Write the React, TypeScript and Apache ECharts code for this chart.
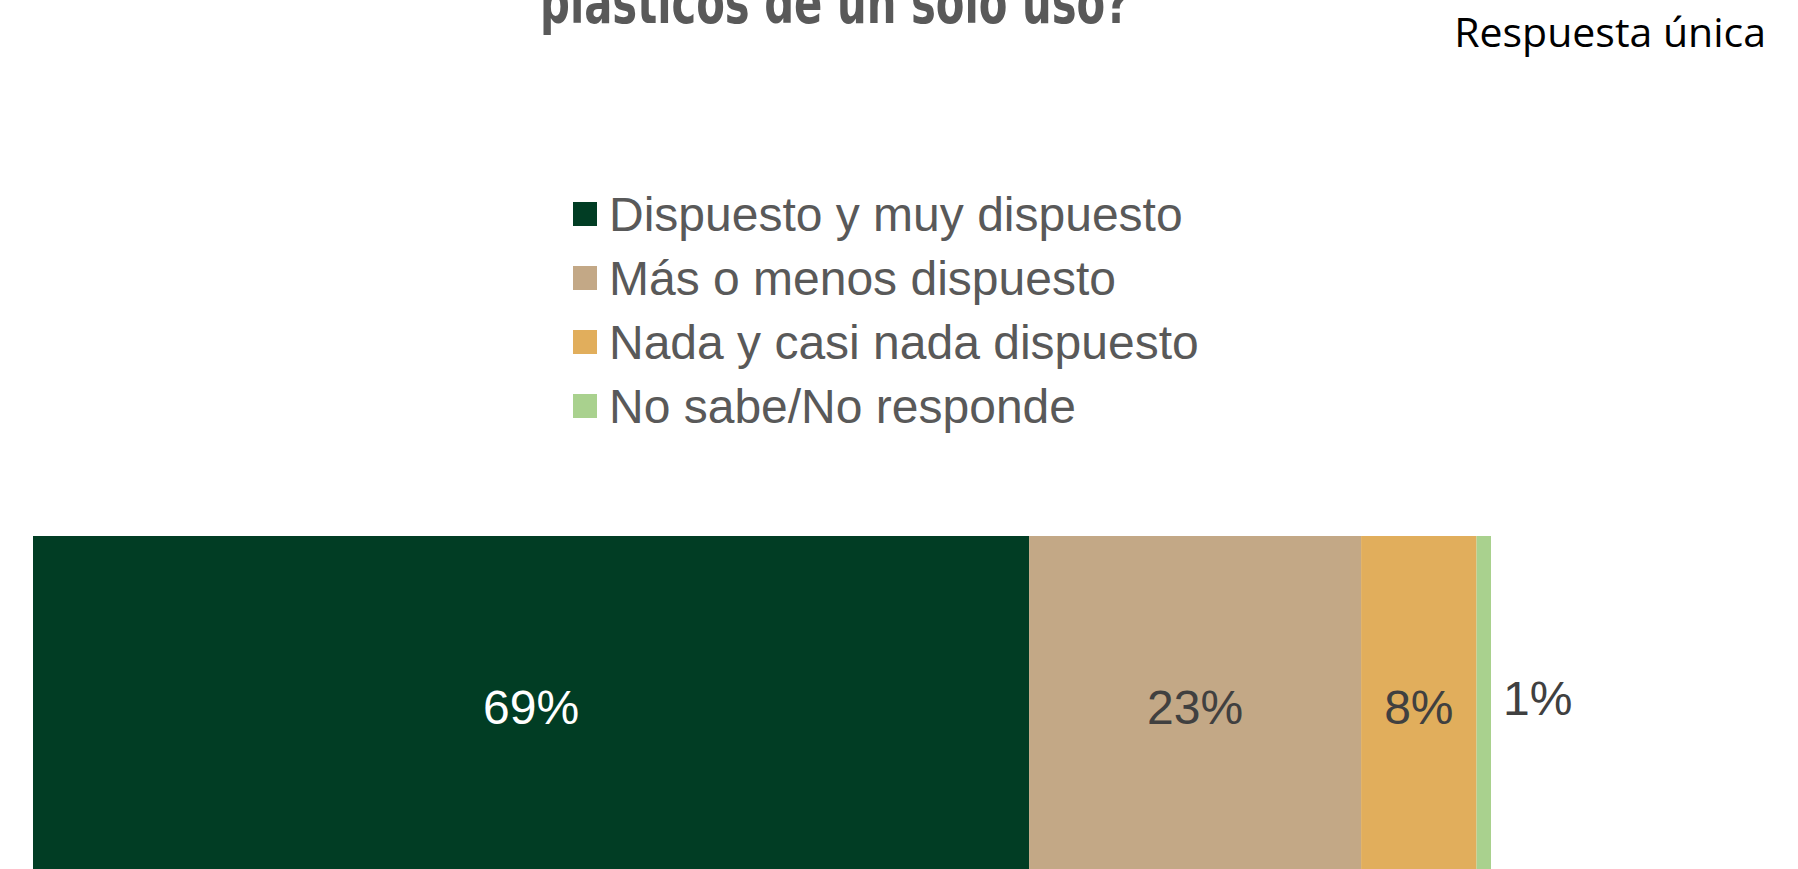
import React, { useEffect, useRef } from "react";
import * as echarts from "echarts";

const categories = ["Total"];
const seriesNames = [
  "Dispuesto y muy dispuesto",
  "Más o menos dispuesto",
  "Nada y casi nada dispuesto",
  "No sabe/No responde",
];
const seriesValues = [69, 23, 8, 1];
const seriesColors = ["#013D24", "#C3A886", "#E1AE5C", "#A9D18E"];
const labelColors = ["#FFFFFF", "#404040", "#404040", "#404040"];
const titleLine = "plásticos de un solo uso?";
const noteText = "Respuesta única";

export default function App() {
  const ref = useRef<HTMLDivElement>(null);
  useEffect(() => {
    document.body.style.margin = "0";
    if (!ref.current) return;
    const chart = echarts.init(ref.current, null, { renderer: "svg" });
    const total = seriesValues.reduce((a, b) => a + b, 0);
    const series = seriesNames.map((name, i) => ({
      name,
      type: "bar",
      stack: "total",
      barWidth: "100%",
      data: [seriesValues[i]],
      itemStyle: { color: seriesColors[i] },
      label: {
        show: true,
        position: i === seriesNames.length - 1 ? "right" : "inside",
        distance: 12,
        offset: i === seriesNames.length - 1 ? [0, -4] : [0, 5],
        formatter: (p: any) => `${p.value}%`,
        color: labelColors[i],
        fontSize: 48,
        fontFamily: "Liberation Sans, Arial, sans-serif",
      },
    }));
    chart.setOption({
      animation: false,
      graphic: [
        {
          type: "text",
          x: 540,
          y: 3,
          scaleX: 0.8,
          style: {
            x: 0,
            y: 0,
            text: titleLine,
            fontSize: 58,
            fontWeight: "bold",
            fontFamily: "DejaVu Sans Condensed, Liberation Sans Narrow, sans-serif",
            fill: "#595959",
            verticalAlign: "middle",
          },
        },
        {
          type: "text",
          right: 32,
          top: 10,
          style: {
            text: noteText,
            fontSize: 41,
            fontFamily: "Open Sans, sans-serif",
            fill: "#000000",
          },
        },
      ],
      legend: {
        orient: "vertical",
        left: 573,
        top: 188,
        padding: 0,
        icon: "rect",
        itemWidth: 24,
        itemHeight: 24,
        itemGap: 12,
        data: seriesNames,
        textStyle: {
          fontSize: 48,
          lineHeight: 52,
          color: "#595959",
          fontFamily: "Liberation Sans, Arial, sans-serif",
          padding: [0, 0, 0, 7],
        },
      },
      grid: { left: 33, top: 536, width: 1458, height: 341 },
      xAxis: { type: "value", min: 0, max: total, show: false },
      yAxis: { type: "category", data: categories, show: false },
      series,
    });
    return () => chart.dispose();
  }, []);
  return (
    <div
      ref={ref}
      style={{ position: "absolute", left: 0, top: 0, width: 1798, height: 869 }}
    />
  );
}
